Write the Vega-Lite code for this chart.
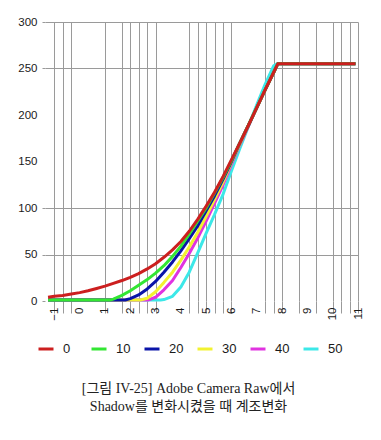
{
  "$schema": "https://vega.github.io/schema/vega-lite/v6.json",
  "autosize": {"type": "none"},
  "width": 313,
  "height": 279,
  "padding": {"left": 45, "top": 22, "right": 23, "bottom": 139},
  "background": "white",
  "title": {
    "text": ["[그림 IV-25] Adobe Camera Raw에서", "Shadow를 변화시켰을 때 계조변화"],
    "orient": "bottom",
    "anchor": "middle",
    "font": "Liberation Serif, Noto Sans CJK KR",
    "fontSize": 14,
    "fontWeight": "normal",
    "lineHeight": 18,
    "color": "#222222",
    "dx": -13,
    "offset": 26
  },
  "data": {
    "values": [
      {"s": 50, "x": -1.25, "y": 1}, {"s": 50, "x": 3.2, "y": 1}, {"s": 50, "x": 3.33, "y": 1.5}, {"s": 50, "x": 3.67, "y": 5}, {"s": 50, "x": 4, "y": 15}, {"s": 50, "x": 4.33, "y": 31}, {"s": 50, "x": 4.67, "y": 52}, {"s": 50, "x": 5, "y": 73}, {"s": 50, "x": 5.33, "y": 93}, {"s": 50, "x": 5.67, "y": 115}, {"s": 50, "x": 6, "y": 140}, {"s": 50, "x": 6.33, "y": 164}, {"s": 50, "x": 6.67, "y": 188}, {"s": 50, "x": 7, "y": 211}, {"s": 50, "x": 7.33, "y": 233}, {"s": 50, "x": 7.67, "y": 253}, {"s": 50, "x": 7.8, "y": 255}, {"s": 50, "x": 10.9, "y": 255},
      {"s": 40, "x": -1.25, "y": 1}, {"s": 40, "x": 2.7, "y": 1}, {"s": 40, "x": 3, "y": 4}, {"s": 40, "x": 3.33, "y": 12}, {"s": 40, "x": 3.67, "y": 22}, {"s": 40, "x": 4, "y": 36}, {"s": 40, "x": 4.33, "y": 51}, {"s": 40, "x": 4.67, "y": 68}, {"s": 40, "x": 5, "y": 86}, {"s": 40, "x": 5.33, "y": 105}, {"s": 40, "x": 5.67, "y": 125}, {"s": 40, "x": 6, "y": 147}, {"s": 40, "x": 6.33, "y": 168}, {"s": 40, "x": 6.67, "y": 188}, {"s": 40, "x": 7, "y": 208}, {"s": 40, "x": 7.33, "y": 227}, {"s": 40, "x": 7.67, "y": 246}, {"s": 40, "x": 7.83, "y": 255}, {"s": 40, "x": 10.9, "y": 255},
      {"s": 30, "x": -1.25, "y": 1}, {"s": 30, "x": 2.4, "y": 1}, {"s": 30, "x": 2.67, "y": 3}, {"s": 30, "x": 3, "y": 10}, {"s": 30, "x": 3.33, "y": 20}, {"s": 30, "x": 3.67, "y": 31}, {"s": 30, "x": 4, "y": 44}, {"s": 30, "x": 4.33, "y": 58}, {"s": 30, "x": 4.67, "y": 74}, {"s": 30, "x": 5, "y": 91}, {"s": 30, "x": 5.33, "y": 109}, {"s": 30, "x": 5.67, "y": 128}, {"s": 30, "x": 6, "y": 149}, {"s": 30, "x": 6.33, "y": 169}, {"s": 30, "x": 6.67, "y": 189}, {"s": 30, "x": 7, "y": 208}, {"s": 30, "x": 7.33, "y": 227}, {"s": 30, "x": 7.67, "y": 246}, {"s": 30, "x": 7.83, "y": 255}, {"s": 30, "x": 10.9, "y": 255},
      {"s": 20, "x": -1.25, "y": 1}, {"s": 20, "x": 1.8, "y": 1}, {"s": 20, "x": 2, "y": 2.5}, {"s": 20, "x": 2.33, "y": 6.5}, {"s": 20, "x": 2.67, "y": 13}, {"s": 20, "x": 3, "y": 21}, {"s": 20, "x": 3.33, "y": 31}, {"s": 20, "x": 3.67, "y": 42}, {"s": 20, "x": 4, "y": 54}, {"s": 20, "x": 4.33, "y": 67}, {"s": 20, "x": 4.67, "y": 81}, {"s": 20, "x": 5, "y": 97}, {"s": 20, "x": 5.33, "y": 113}, {"s": 20, "x": 5.67, "y": 131}, {"s": 20, "x": 6, "y": 150}, {"s": 20, "x": 6.33, "y": 170}, {"s": 20, "x": 6.67, "y": 189}, {"s": 20, "x": 7, "y": 208}, {"s": 20, "x": 7.33, "y": 227}, {"s": 20, "x": 7.67, "y": 246}, {"s": 20, "x": 7.83, "y": 255}, {"s": 20, "x": 10.9, "y": 255},
      {"s": 10, "x": -1.25, "y": 1}, {"s": 10, "x": 1.2, "y": 1}, {"s": 10, "x": 1.33, "y": 2}, {"s": 10, "x": 1.67, "y": 6}, {"s": 10, "x": 2, "y": 11}, {"s": 10, "x": 2.33, "y": 17}, {"s": 10, "x": 2.67, "y": 23}, {"s": 10, "x": 3, "y": 30}, {"s": 10, "x": 3.33, "y": 38}, {"s": 10, "x": 3.67, "y": 48}, {"s": 10, "x": 4, "y": 59}, {"s": 10, "x": 4.33, "y": 72}, {"s": 10, "x": 4.67, "y": 86}, {"s": 10, "x": 5, "y": 100}, {"s": 10, "x": 5.33, "y": 116}, {"s": 10, "x": 5.67, "y": 133}, {"s": 10, "x": 6, "y": 151}, {"s": 10, "x": 6.33, "y": 170}, {"s": 10, "x": 6.67, "y": 189}, {"s": 10, "x": 7, "y": 208}, {"s": 10, "x": 7.33, "y": 227}, {"s": 10, "x": 7.67, "y": 246}, {"s": 10, "x": 7.83, "y": 255}, {"s": 10, "x": 10.9, "y": 255},
      {"s": 0, "x": -1.25, "y": 4}, {"s": 0, "x": -1, "y": 5}, {"s": 0, "x": -0.67, "y": 6}, {"s": 0, "x": -0.33, "y": 7.5}, {"s": 0, "x": 0, "y": 9}, {"s": 0, "x": 0.33, "y": 11}, {"s": 0, "x": 0.67, "y": 13.5}, {"s": 0, "x": 1, "y": 16}, {"s": 0, "x": 1.33, "y": 19}, {"s": 0, "x": 1.67, "y": 22}, {"s": 0, "x": 2, "y": 25.5}, {"s": 0, "x": 2.33, "y": 29.5}, {"s": 0, "x": 2.67, "y": 34.5}, {"s": 0, "x": 3, "y": 40}, {"s": 0, "x": 3.33, "y": 47}, {"s": 0, "x": 3.67, "y": 55}, {"s": 0, "x": 4, "y": 64}, {"s": 0, "x": 4.33, "y": 75}, {"s": 0, "x": 4.67, "y": 88}, {"s": 0, "x": 5, "y": 102}, {"s": 0, "x": 5.33, "y": 117}, {"s": 0, "x": 5.67, "y": 134}, {"s": 0, "x": 6, "y": 152}, {"s": 0, "x": 6.33, "y": 170}, {"s": 0, "x": 6.67, "y": 189}, {"s": 0, "x": 7, "y": 208}, {"s": 0, "x": 7.33, "y": 227}, {"s": 0, "x": 7.67, "y": 246}, {"s": 0, "x": 7.83, "y": 255}, {"s": 0, "x": 10.9, "y": 255}
    ]
  },
  "mark": {"type": "line", "strokeWidth": 3, "strokeCap": "butt", "strokeJoin": "round"},
  "encoding": {
    "x": {
      "field": "x",
      "type": "quantitative",
      "scale": {"domain": [-1.37, 11], "nice": false, "zero": false},
      "axis": {
        "title": null,
        "domain": false,
        "values": [-1, -0.6667, -0.3333, 0, 1, 1.6667, 2, 2.3333, 2.6667, 3, 4, 4.3333, 4.6667, 5, 5.3333, 5.6667, 6, 7, 7.3333, 7.6667, 8, 8.6667, 9, 9.3333, 10, 10.3333, 10.6667, 11],
        "labelExpr": "abs(datum.value - round(datum.value)) < 0.01 ? format(datum.value, 'd') : ''",
        "labelAngle": -90,
        "labelOverlap": false,
        "labelBound": false,
        "labelFlush": false,
        "labelFont": "Liberation Sans",
        "labelFontSize": 11.5,
        "labelColor": "#1a1a1a",
        "labelPadding": -6,
        "tickSize": 12,
        "tickWidth": 1,
        "tickColor": {"condition": {"test": "indexof([0,4,7,9], datum.value) >= 0", "value": "transparent"}, "value": "#9a9a9a"},
        "grid": true,
        "gridWidth": 1,
        "gridColor": {"condition": {"test": "indexof([0,4,7,9], datum.value) >= 0", "value": "transparent"}, "value": "#9a9a9a"}
      }
    },
    "y": {
      "field": "y",
      "type": "quantitative",
      "scale": {"domain": [0, 300], "nice": false},
      "axis": {
        "title": null,
        "domain": false,
        "values": [0, 50, 100, 150, 200, 250, 300],
        "labelFont": "Liberation Sans",
        "labelFontSize": 11.5,
        "labelColor": "#1a1a1a",
        "labelPadding": 5,
        "tickSize": 3,
        "tickColor": {"condition": {"test": "datum.value == 150 || datum.value == 200", "value": "transparent"}, "value": "#9a9a9a"},
        "grid": true,
        "gridColor": {"condition": {"test": "datum.value == 0 || datum.value == 150 || datum.value == 200", "value": "transparent"}, "value": "#9a9a9a"}
      }
    },
    "color": {
      "field": "s",
      "type": "nominal",
      "scale": {"domain": [0, 10, 20, 30, 40, 50], "range": ["#cc1f1f", "#33e633", "#0a14a8", "#f2f230", "#e033e0", "#3ce8e8"]},
      "legend": {
        "title": null,
        "orient": "none",
        "legendX": -8,
        "legendY": 318,
        "direction": "horizontal",
        "columns": 6,
        "gridAlign": "all",
        "symbolType": "stroke",
        "symbolSize": 225,
        "symbolStrokeWidth": 3,
        "labelFont": "Liberation Sans",
        "labelFontSize": 13,
        "labelColor": "#1a1a1a",
        "labelOffset": 8,
        "columnPadding": 7
      }
    }
  },
  "config": {"view": {"stroke": null}}
}
